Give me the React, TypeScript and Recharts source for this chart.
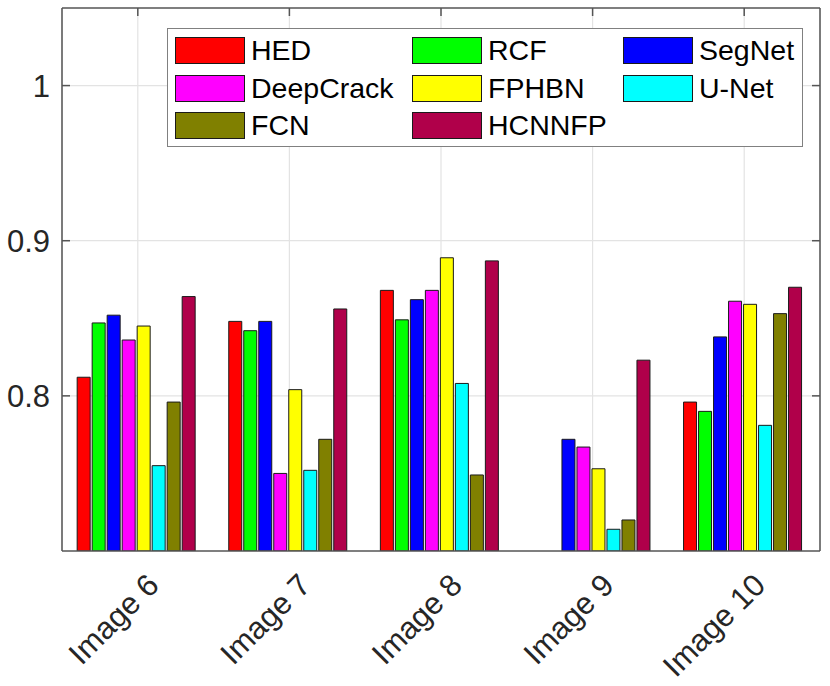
import React from "react";
import { ComposedChart, Bar, Line, XAxis, YAxis, CartesianGrid } from "recharts";

const images = ["Image 6", "Image 7", "Image 8", "Image 9", "Image 10"];

// values below 0.7 fall under the axis floor (null = not visible)
const hed = [0.812, 0.848, 0.868, null, 0.796];
const rcf = [0.847, 0.842, 0.849, null, 0.79];
const segnet = [0.852, 0.848, 0.862, 0.772, 0.838];
const deepcrack = [0.836, 0.75, 0.868, 0.767, 0.861];
const fphbn = [0.845, 0.804, 0.889, 0.753, 0.859];
const unet = [0.755, 0.752, 0.808, 0.714, 0.781];
const fcn = [0.796, 0.772, 0.749, 0.72, 0.853];
const hcnnfp = [0.864, 0.856, 0.887, 0.823, 0.87];

const yTicks = [0.8, 0.9, 1];

const series = [
  { key: "HED", vals: hed, color: "#ff0000" },
  { key: "RCF", vals: rcf, color: "#00ff00" },
  { key: "SegNet", vals: segnet, color: "#0000ff" },
  { key: "DeepCrack", vals: deepcrack, color: "#ff00ff" },
  { key: "FPHBN", vals: fphbn, color: "#ffff00" },
  { key: "U-Net", vals: unet, color: "#00ffff" },
  { key: "FCN", vals: fcn, color: "#808000" },
  { key: "HCNNFP", vals: hcnnfp, color: "#b0004a" },
];

// legend is row-major, 3 columns
const legendOrder = ["HED", "RCF", "SegNet", "DeepCrack", "FPHBN", "U-Net", "FCN", "HCNNFP"];

const data = images.map((name, i) => {
  const row: any = { name };
  series.forEach(s => { row[s.key] = s.vals[i]; });
  return row;
});

const FONT = "'Liberation Sans', Arial, Helvetica, sans-serif";
const TEXT = "#262626";
const AXIS = "#555555";

const XTick = ({ x, y, payload }: any) => (
  <g transform={`translate(${x + 23},${y + 28})`}>
    <text textAnchor="end" transform="rotate(-45)" fill={TEXT} fontSize={31} fontFamily={FONT}>
      {payload.value}
    </text>
  </g>
);

const NoLabel = () => <g />;

const LegendBox = () => {
  const colX = [7, 244, 455];
  return (
    <div style={{
      position: "absolute", left: 167, top: 28, width: 636, height: 119,
      boxSizing: "border-box", background: "#fff", border: "1.5px solid #808080", fontFamily: FONT,
    }}>
      {legendOrder.map((k, i) => {
        const s = series.find(t => t.key === k)!;
        const col = i % 3, row = Math.floor(i / 3);
        return (
          <div key={k} style={{ position: "absolute", left: colX[col], top: 8 + row * 37.5, display: "flex", alignItems: "center" }}>
            <div style={{ width: 70, height: 27, boxSizing: "border-box", background: s.color, border: "1.5px solid #1a1a1a" }} />
            <span style={{ marginLeft: 6, fontSize: 28.5, color: "#000", lineHeight: "27px" }}>{k}</span>
          </div>
        );
      })}
    </div>
  );
};

export default function App() {
  return (
    <div style={{ position: "absolute", left: 0, top: 0, width: 830, height: 686, background: "#fff" }}>
      <ComposedChart width={830} height={686} data={data}
        margin={{ top: 7, right: 9, bottom: 8, left: 6 }}
        barCategoryGap="10%" barGap={2}>
        <CartesianGrid stroke="#e3e3e3" strokeWidth={1.2} horizontalValues={yTicks} />
        <XAxis dataKey="name" height={127} interval={0} tick={<XTick />}
          axisLine={{ stroke: AXIS, strokeWidth: 1.5 }} tickLine={false} />
        <XAxis xAxisId="top" dataKey="name" orientation="top" height={1} interval={0} tick={<NoLabel />}
          tickSize={-8} axisLine={{ stroke: AXIS, strokeWidth: 1.5 }}
          tickLine={{ stroke: AXIS, strokeWidth: 1.5 }} />
        <YAxis width={56} type="number" domain={[0.7, 1.05]} ticks={yTicks} allowDataOverflow
          tickFormatter={(v: number) => (v === 1 ? "1" : v.toFixed(1))}
          tick={{ fill: TEXT, fontSize: 31, fontFamily: FONT }}
          tickSize={-8} tickMargin={20}
          axisLine={{ stroke: AXIS, strokeWidth: 1.5 }} tickLine={{ stroke: AXIS, strokeWidth: 1.5 }} />
        <YAxis yAxisId="right" orientation="right" width={1} type="number" domain={[0.7, 1.05]}
          ticks={yTicks} allowDataOverflow tick={<NoLabel />} tickSize={-8}
          axisLine={{ stroke: AXIS, strokeWidth: 1.5 }} tickLine={{ stroke: AXIS, strokeWidth: 1.5 }} />
        {series.map(s => (
          <Bar key={s.key} dataKey={s.key} fill={s.color} stroke="#1a1a1a" strokeWidth={1}
            isAnimationActive={false} />
        ))}
        {/* invisible series so the top/right box axes get drawn */}
        <Line xAxisId="top" yAxisId="right" dataKey="HCNNFP" stroke="none" dot={false}
          activeDot={false} legendType="none" isAnimationActive={false} />
      </ComposedChart>
      <LegendBox />
    </div>
  );
}
